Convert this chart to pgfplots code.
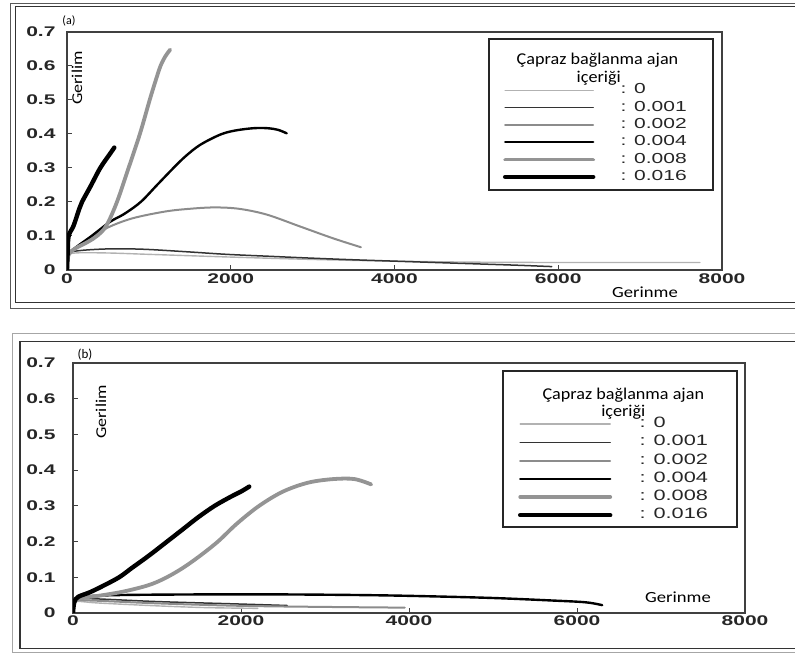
\documentclass[border=0pt]{standalone}
\usepackage{fontspec}
\setmainfont{Carlito}
\newfontfamily\tickfont[FakeStretch=1.5]{Liberation Sans}
\newfontfamily\legfont[FakeStretch=1.45]{Liberation Sans}
\newfontfamily\labfont[FakeStretch=1.2]{Carlito}
\newfontfamily\titfont[FakeStretch=1.1]{Carlito}
\usepackage{pgfplots}
\pgfplotsset{compat=1.18}
\tikzset{
 s0/.style={color=black!30, line width=1.4bp},
 s1/.style={color=black!80, line width=1.5bp},
 s2/.style={color=black!45, line width=2bp},
 s4/.style={color=black, line width=2.4bp},
 s8/.style={color=black!42, line width=3.8bp},
 s16/.style={color=black, line width=4.4bp},
}
\pgfplotsset{
 panel/.style={
  scale only axis, anchor=south west,
  xmin=0, xmax=8000, ymin=0, ymax=0.7,
  xtick={0,2000,4000,6000,8000}, xticklabels={0,2000,4000,6000,8000},
  ytick={0,0.1,0.2,0.3,0.4,0.5,0.6,0.7}, yticklabels={0,0.1,0.2,0.3,0.4,0.5,0.6,0.7},
  xtick pos=left, ytick pos=left, tick align=inside,
  major tick length=5bp,
  axis line style={black!75, line width=1.3bp},
  every tick/.style={black!75, line width=1bp},
  ticklabel style={font=\fontsize{14bp}{16bp}\selectfont\tickfont\bfseries, text=black!85},
  no markers, every axis plot/.append style={line join=round, line cap=round, smooth, tension=0.55},
  legend cell align=left,
  legend image code/.code={\draw[##1] (0bp,0bp) -- (88bp,0bp);},
 }
}
\begin{document}
\begin{tikzpicture}[x=1bp,y=1bp]
\useasboundingbox (0,0) rectangle (795,654);
% frames
\draw[black!65, line width=1bp] (800,650.7) -- (10.7,650.7) -- (10.7,345.7) -- (800,345.7);
\draw[black!80, line width=1.2bp] (800,647.3) -- (15.3,647.3) -- (15.3,351.3) -- (800,351.3);
\draw[black!35, line width=1bp] (800,320.7) -- (12.7,320.7) -- (12.7,1) -- (800,1);
\draw[black!80, line width=1.2bp] (800,312.3) -- (20,312.3) -- (20,5.7) -- (800,5.7);

% panel (a)
\begin{axis}[panel, at={(67bp,384bp)}, width=655bp, height=238bp,
 yticklabel style={xshift=-8bp},
 legend style={at={(0.6656,0.791)}, anchor=north west, draw=none, fill=none, inner sep=0pt, outer sep=0pt, row sep=0pt,
  nodes={font=\fontsize{14.5bp}{16bp}\selectfont\legfont, text=black!85, inner sep=2.15bp, text height=10bp, text depth=3bp},
  /tikz/every odd column/.append style={column sep=23bp}},
]
\addplot[s0] coordinates {(0,0)(15,0.04)(100,0.05)(500,0.05)(1000,0.046)(2000,0.038)(3000,0.031)(4000,0.026)(5000,0.023)(6000,0.022)(7000,0.022)(7730,0.022)};
\addplot[s1] coordinates {(0,0)(15,0.045)(118,0.056)(500,0.062)(932,0.061)(1500,0.053)(1951,0.046)(2500,0.040)(2969,0.035)(3500,0.03)(4000,0.026)(4500,0.022)(5000,0.018)(5500,0.014)(5920,0.01)};
\addplot[s2] coordinates {(0,0)(15,0.045)(150,0.07)(300,0.095)(500,0.125)(800,0.152)(1200,0.172)(1500,0.18)(1800,0.184)(2100,0.18)(2439,0.163)(2846,0.128)(3252,0.093)(3589,0.067)};
\addplot[s4] coordinates {(0,0)(15,0.045)(100,0.065)(300,0.1)(528,0.142)(700,0.165)(900,0.2)(1100,0.25)(1300,0.3)(1450,0.335)(1626,0.368)(1870,0.398)(2050,0.41)(2276,0.417)(2450,0.417)(2580,0.412)(2683,0.402)};
\addplot[s8] coordinates {(0,0)(20,0.045)(100,0.063)(250,0.082)(366,0.1)(480,0.13)(610,0.2)(752,0.3)(890,0.4)(1010,0.5)(1080,0.555)(1142,0.6)(1200,0.628)(1260,0.648)};
\addplot[s16] coordinates {(0,0)(8,0.05)(20,0.1)(80,0.13)(150,0.18)(183,0.2)(285,0.245)(406,0.3)(520,0.34)(578,0.36)};
\legend{: 0, : 0.001, : 0.002, : 0.004, : 0.008, : 0.016}
\end{axis}
\draw[black!85, line width=1.2bp] (489,615) rectangle (713,464);
\node[font=\fontsize{16.5bp}{18bp}\selectfont\titfont] at (597.5,594) {Çapraz bağlanma ajan};
\node[font=\fontsize{16.5bp}{18bp}\selectfont\titfont] at (598.7,576) {içeriği};
\node[font=\fontsize{12bp}{14bp}\selectfont] at (69,633) {(a)};
\node[font=\fontsize{15bp}{17bp}\selectfont\labfont, rotate=90] at (77,576) {Gerilim};
\node[font=\fontsize{15.5bp}{17bp}\selectfont\labfont] at (645,362) {Gerinme};

% panel (b)
\begin{axis}[panel, at={(73bp,41bp)}, width=672bp, height=250bp,
 yticklabel style={xshift=-14bp}, xticklabel style={yshift=1bp},
 legend style={at={(0.6622,0.7916)}, anchor=north west, draw=none, fill=none, inner sep=0pt, outer sep=0pt, row sep=0pt,
  nodes={font=\fontsize{15bp}{17bp}\selectfont\legfont, text=black!85, inner sep=2.1bp, text height=10.5bp, text depth=3.5bp},
  /tikz/every odd column/.append style={column sep=25bp}},
 legend image code/.code={\draw[#1] (0bp,0bp) -- (90bp,0bp);},
]
\addplot[s0] coordinates {(0,0)(15,0.03)(100,0.032)(300,0.028)(1000,0.02)(1600,0.015)(2200,0.013)};
\addplot[s1] coordinates {(0,0)(15,0.035)(200,0.04)(1000,0.032)(2000,0.025)(2550,0.021)};
\addplot[s2] coordinates {(0,0)(15,0.033)(200,0.035)(1000,0.027)(2000,0.02)(3000,0.017)(3950,0.015)};
\addplot[s4] coordinates {(0,0)(15,0.035)(100,0.045)(500,0.05)(1500,0.052)(2500,0.052)(3500,0.05)(4200,0.047)(5000,0.042)(5700,0.035)(6100,0.03)(6300,0.022)};
\addplot[s8] coordinates {(0,0)(15,0.03)(100,0.042)(300,0.048)(600,0.06)(900,0.078)(1100,0.098)(1300,0.125)(1500,0.158)(1725,0.2)(1950,0.25)(2216,0.3)(2500,0.34)(2800,0.365)(3100,0.375)(3350,0.375)(3550,0.36)};
\addplot[s16] coordinates {(0,0)(15,0.03)(60,0.045)(200,0.058)(350,0.075)(549,0.1)(706,0.127)(900,0.16)(1098,0.196)(1300,0.233)(1490,0.268)(1686,0.3)(1882,0.326)(2000,0.34)(2098,0.354)};
\legend{: 0, : 0.001, : 0.002, : 0.004, : 0.008, : 0.016}
\end{axis}
\draw[black!85, line width=1.2bp] (503,283) rectangle (737,127);
\node[font=\fontsize{16.5bp}{18bp}\selectfont\titfont] at (623.3,259) {Çapraz bağlanma ajan};
\node[font=\fontsize{16.5bp}{18bp}\selectfont\titfont] at (623.3,242) {içeriği};
\node[font=\fontsize{13bp}{15bp}\selectfont] at (85,299) {(b)};
\node[font=\fontsize{15bp}{17bp}\selectfont\labfont, rotate=90] at (101,242) {Gerilim};
\node[font=\fontsize{15.5bp}{17bp}\selectfont\labfont] at (678,57) {Gerinme};
\end{tikzpicture}
\end{document}
